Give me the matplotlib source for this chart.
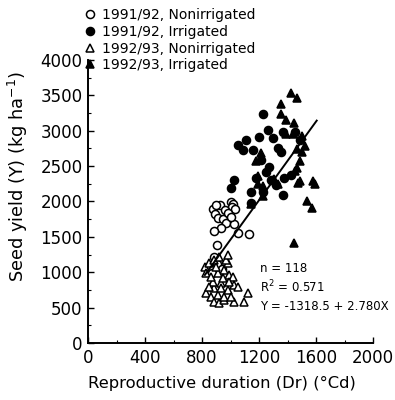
import matplotlib
matplotlib.use("Agg")
import matplotlib.pyplot as plt
import numpy as np
from matplotlib.ticker import MultipleLocator

plt.rcParams['font.family'] = ['DejaVu Sans']

# 1991/92 Nonirrigated (open circles)
ni91_x = [927, 878, 892, 913, 948, 969, 1000, 1020, 1010, 1030, 1024, 934, 885, 1052,
          1129, 906, 885, 905, 940, 870, 960, 985, 1005, 895]
ni91_y = [1955, 1898, 1828, 1772, 1758, 1702, 1990, 1960, 1920, 1900, 1688, 1632, 1590, 1561,
          1547, 1392, 1209, 1120, 1050, 990, 1880, 1840, 1780, 1950]
# 1991/92 Irrigated (filled circles)
ir91_x = [1226, 1261, 1199, 1296, 1108, 1052, 1087, 1157, 1331, 1352, 1366, 1268, 1373, 1366,
          1024, 1003, 1143, 1213, 1247, 1178, 1317, 1143, 1226, 1282, 1422, 1491, 1456]
ir91_y = [3234, 3008, 2910, 2895, 2867, 2797, 2726, 2726, 2754, 2698, 2980, 2486, 2331, 2090,
          2302, 2189, 2133, 2585, 2415, 2330, 2232, 1977, 2133, 2302, 2373, 2867, 2980]
# 1992/93 Nonirrigated (open triangles)
ni92_x = [818, 829, 850, 887, 920, 982, 990, 1017, 955, 912, 934, 887, 982, 1024, 1052, 829,
          864, 885, 920, 955, 1024, 1094, 1122, 912, 955, 878, 899, 948, 990, 969, 864, 1003,
          850, 934, 982]
ni92_y = [1078, 984, 1130, 1172, 1215, 1130, 960, 932, 1031, 989, 847, 777, 749, 819, 791, 706,
          650, 579, 565, 607, 579, 579, 706, 678, 650, 862, 1073, 918, 862, 1172, 932, 650,
          791, 777, 1243]
# 1992/93 Irrigated (filled triangles)
ir92_x = [1422, 1470, 1352, 1352, 1387, 1443, 1387, 1436, 1505, 1526, 1470, 1213, 1178, 1470,
          1491, 1192, 1303, 1491, 1582, 1226, 1596, 1540, 1575, 1443, 1477, 1456, 1192, 1226,
          1143, 1500, 1300, 1330]
ir92_y = [3530, 3460, 3375, 3235, 3150, 3108, 2953, 2953, 2925, 2785, 2743, 2686, 2574, 2475,
          2574, 2363, 2321, 2293, 2293, 2222, 2250, 2011, 1913, 1420, 2264, 2433, 2250, 2081,
          1969, 2700, 2300, 2250]

labels = ["1991/92, Nonirrigated", "1991/92, Irrigated",
          "1992/93, Nonirrigated", "1992/93, Irrigated"]

intercept, slope = -1318.5, 2.780
line_x = np.array([820, 1605])

fig = plt.figure(figsize=(3.95, 4.0), dpi=100)
ax = fig.add_axes([88/395, 1-343/400, (373-88)/395, (343-60)/400])

ms = 5.8
h1, = ax.plot(ni91_x, ni91_y, 'o', ms=ms, mfc='white', mec='black', mew=1.1, ls='none')
h2, = ax.plot(ir91_x, ir91_y, 'o', ms=ms, mfc='black', mec='black', mew=1.1, ls='none')
h3, = ax.plot(ni92_x, ni92_y, '^', ms=ms+0.6, mfc='white', mec='black', mew=1.1, ls='none')
h4, = ax.plot(ir92_x, ir92_y, '^', ms=ms+0.6, mfc='black', mec='black', mew=1.1, ls='none')
ax.plot(line_x, intercept + slope*line_x, color='black', lw=1.4)

ax.set_xlim(0, 2000)
ax.set_ylim(0, 4000)
ax.xaxis.set_major_locator(MultipleLocator(400))
ax.xaxis.set_minor_locator(MultipleLocator(200))
ax.yaxis.set_major_locator(MultipleLocator(500))
ax.yaxis.set_minor_locator(MultipleLocator(250))
ax.tick_params(which='major', direction='in', length=4, width=1, labelsize=12, pad=4)
ax.tick_params(which='minor', direction='in', length=2, width=0.8)
for s in ['top', 'right']:
    ax.spines[s].set_visible(False)
for s in ['left', 'bottom']:
    ax.spines[s].set_linewidth(1.4)

ax.set_xlabel("Reproductive duration (Dr) (°Cd)", fontsize=11.8)
ax.xaxis.set_label_coords(0.47, -0.117)
ax.set_ylabel("Seed yield (Y) (kg ha$^{-1}$)", fontsize=12.8)
ax.yaxis.set_label_coords(-0.205, 0.59)

ax.text(1205, 1060, "n = 118", fontsize=8.5, va='center')
ax.text(1205, 790, "R$^2$ = 0.571", fontsize=8.5, va='center')
ax.text(1205, 520, "Y = -1318.5 + 2.780X", fontsize=8.5, va='center')

fig.legend([h1, h2, h3, h4], labels, loc='upper left',
           bbox_to_anchor=(84/395, 1-8/400), frameon=False, fontsize=10,
           handlelength=0.8, handletextpad=0.5, labelspacing=0.2, borderaxespad=0,
           borderpad=0)

fig.savefig("out.png", dpi=100)
